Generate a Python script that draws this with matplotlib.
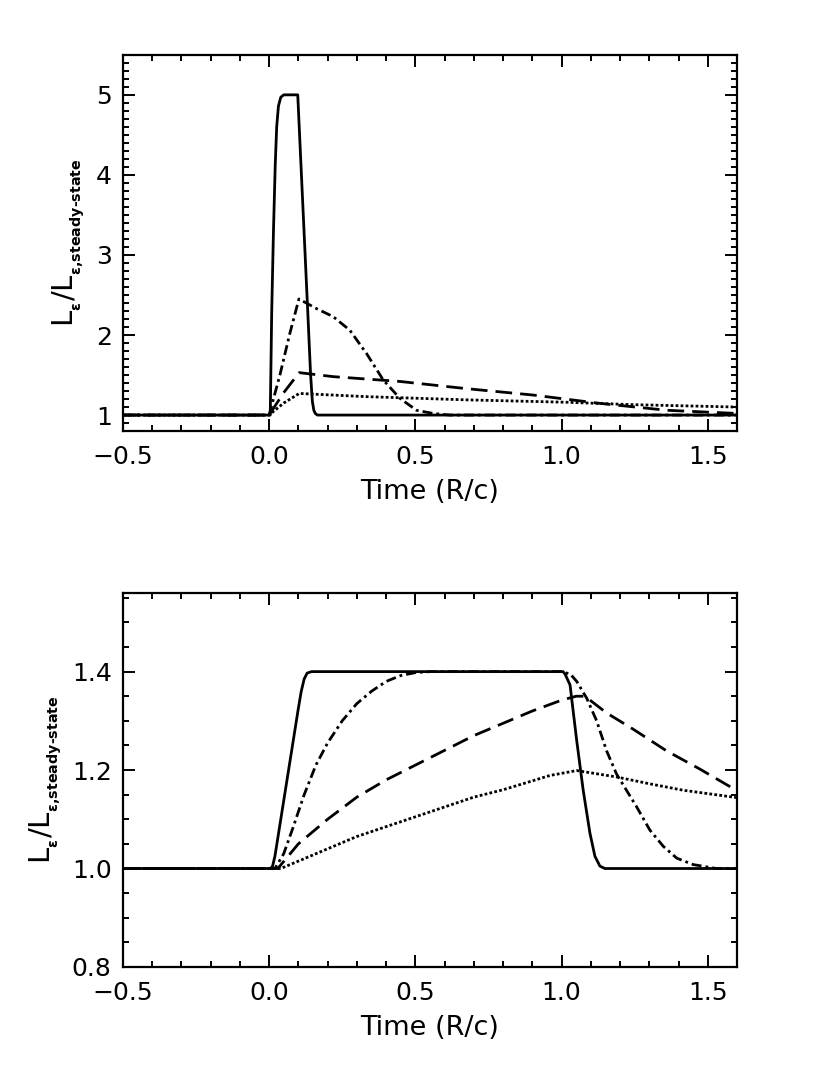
import matplotlib
matplotlib.use("Agg")
import matplotlib.pyplot as plt
from matplotlib.ticker import MultipleLocator, FuncFormatter

plt.rcParams["font.family"] = ["DejaVu Sans"]
plt.rcParams["mathtext.fontset"] = "dejavusans"

# ---- top panel: short pulse ----
top_solid_x = [-0.5, 0.0, 0.004, 0.009, 0.015, 0.021, 0.026, 0.032, 0.04, 0.05, 0.06,
               0.098, 0.11, 0.122, 0.134, 0.142, 0.148, 0.153, 0.158, 0.165, 1.6]
top_solid_y = [1.0, 1.0, 1.0, 2.29, 3.3, 4.12, 4.6, 4.86, 4.97, 5.0, 5.0,
               5.0, 4.05, 3.1, 2.15, 1.5, 1.17, 1.06, 1.02, 1.0, 1.0]

top_dashdot_x = [-0.5, 0.0, 0.037, 0.071, 0.102, 0.162, 0.219, 0.276, 0.333, 0.39,
                 0.447, 0.504, 0.561, 0.618, 1.6]
top_dashdot_y = [1.0, 1.0, 1.5, 2.02, 2.45, 2.33, 2.23, 2.06, 1.77, 1.44,
                 1.21, 1.06, 1.02, 1.0, 1.0]

top_dashed_x = [-0.5, 0.0, 0.05, 0.103, 0.219, 0.447, 0.675, 0.903, 1.131, 1.359, 1.6]
top_dashed_y = [1.0, 1.0, 1.28, 1.53, 1.48, 1.42, 1.33, 1.25, 1.146, 1.06, 1.02]

top_dotted_x = [-0.5, 0.0, 0.05, 0.103, 0.333, 0.675, 1.017, 1.245, 1.6]
top_dotted_y = [1.0, 1.0, 1.15, 1.27, 1.23, 1.19, 1.16, 1.13, 1.10]

# ---- bottom panel: long pulse ----
bot_solid_x = [-0.5, 0.005, 0.012, 0.02, 0.04, 0.06, 0.08, 0.1, 0.11, 0.12, 0.13, 0.145,
               1.005, 1.012, 1.029, 1.052, 1.074, 1.097, 1.114, 1.131, 1.148, 1.6]
bot_solid_y = [1.0, 1.0, 1.005, 1.025, 1.1, 1.175, 1.25, 1.325, 1.36, 1.385, 1.397, 1.4,
               1.4, 1.395, 1.373, 1.259, 1.159, 1.072, 1.025, 1.005, 1.0, 1.0]

bot_dashdot_x = [-0.5, 0.02, 0.05, 0.08, 0.12, 0.16, 0.2, 0.25, 0.3, 0.35, 0.4, 0.45,
                 0.5, 0.55, 1.0, 1.03, 1.052, 1.086, 1.12, 1.154, 1.188, 1.257, 1.302,
                 1.348, 1.394, 1.45, 1.53, 1.6]
bot_dashdot_y = [1.0, 1.0, 1.03, 1.08, 1.15, 1.21, 1.255, 1.3, 1.335, 1.36, 1.38, 1.392,
                 1.398, 1.4, 1.4, 1.395, 1.38, 1.346, 1.3, 1.239, 1.192, 1.125, 1.078,
                 1.045, 1.021, 1.008, 1.0, 1.0]

bot_dashed_x = [-0.5, 0.03, 0.1, 0.2, 0.3, 0.4, 0.5, 0.6, 0.7, 0.8, 0.9, 1.0, 1.05,
                1.08, 1.154, 1.245, 1.359, 1.473, 1.6]
bot_dashed_y = [1.0, 1.0, 1.05, 1.1, 1.145, 1.18, 1.21, 1.24, 1.27, 1.295, 1.32, 1.342, 1.35,
                1.35, 1.316, 1.283, 1.239, 1.202, 1.158]

bot_dotted_x = [-0.5, 0.04, 0.1, 0.2, 0.3, 0.4, 0.5, 0.6, 0.7, 0.8, 0.9, 0.96, 1.052,
                1.188, 1.302, 1.416, 1.6]
bot_dotted_y = [1.0, 1.0, 1.015, 1.04, 1.065, 1.085, 1.105, 1.125, 1.145, 1.16, 1.178, 1.189,
                1.199, 1.186, 1.172, 1.159, 1.144]

ylabel = ("$\\mathregular{L}_{{}_{\\mathbf{ε}}}\\mathregular{/L}"
          "_{{}_{\\mathbf{ε{,}steady\u2010state}}}$")

LW = 2.0
styles = {
    "solid": "-",
    "dashed": (0, (6, 2.9)),
    "dashdot": (0, (3.6, 1.45, 1.0, 1.45)),
    "dotted": (0, (1.0, 0.8)),
}


def fmt1(v, pos):
    return f"{v:.1f}".replace("-", "\u2212")


fig = plt.figure(figsize=(8.3, 10.75), dpi=100)
ax1 = fig.add_axes([0.148, 0.599, 0.740, 0.350])
ax2 = fig.add_axes([0.148, 0.1005, 0.740, 0.348])

panels = [
    (ax1, [(top_solid_x, top_solid_y, "solid"), (top_dashdot_x, top_dashdot_y, "dashdot"),
           (top_dashed_x, top_dashed_y, "dashed"), (top_dotted_x, top_dotted_y, "dotted")]),
    (ax2, [(bot_solid_x, bot_solid_y, "solid"), (bot_dashdot_x, bot_dashdot_y, "dashdot"),
           (bot_dashed_x, bot_dashed_y, "dashed"), (bot_dotted_x, bot_dotted_y, "dotted")]),
]

for ax, lines in panels:
    for x, y, ls in lines:
        ax.plot(x, y, color="black", lw=LW, linestyle=styles[ls], dash_capstyle="butt")
    ax.set_xlim(-0.5, 1.6)
    ax.xaxis.set_major_locator(MultipleLocator(0.5))
    ax.xaxis.set_minor_locator(MultipleLocator(0.1))
    ax.xaxis.set_major_formatter(FuncFormatter(fmt1))
    ax.tick_params(which="both", direction="in", top=True, right=True,
                   width=1.4, labelsize=18)
    ax.tick_params(which="major", length=8.5)
    ax.tick_params(which="minor", length=4.5)
    ax.tick_params(axis="x", pad=10)
    ax.tick_params(axis="y", pad=8)
    for sp in ax.spines.values():
        sp.set_linewidth(1.6)
    ax.set_xlabel("Time (R/c)", fontsize=19.5, labelpad=7)
    ax.set_ylabel(ylabel, fontsize=21, labelpad=6)

ax1.set_ylim(0.8, 5.5)
ax1.yaxis.set_major_locator(MultipleLocator(1))
ax1.yaxis.set_minor_locator(MultipleLocator(0.1))
ax1.yaxis.set_major_formatter(FuncFormatter(lambda v, p: f"{v:.0f}"))

ax2.set_ylim(0.8, 1.56)
ax2.yaxis.set_major_locator(MultipleLocator(0.2))
ax2.yaxis.set_minor_locator(MultipleLocator(0.05))
ax2.yaxis.set_major_formatter(FuncFormatter(fmt1))

fig.savefig("out.png", dpi=100)
